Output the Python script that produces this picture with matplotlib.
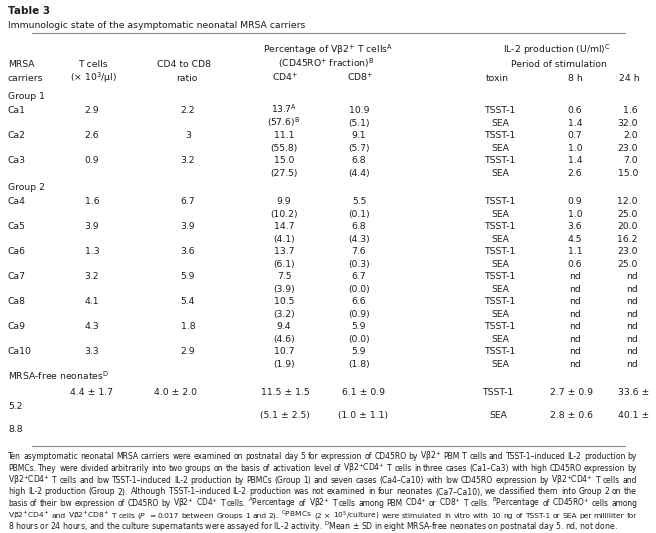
import matplotlib
matplotlib.use('Agg')
import matplotlib.pyplot as plt

plt.rcParams['font.family'] = ['DejaVu Sans']
plt.rcParams['mathtext.fontset'] = 'dejavusans'

title = 'Table 3'
subtitle = 'Immunologic state of the asymptomatic neonatal MRSA carriers'

carriers = ['Ca1', 'Ca2', 'Ca3', 'Ca4', 'Ca5', 'Ca6', 'Ca7', 'Ca8', 'Ca9', 'Ca10']
groups = ['Group 1', 'Group 1', 'Group 1', 'Group 2', 'Group 2', 'Group 2',
          'Group 2', 'Group 2', 'Group 2', 'Group 2']
t_cells = ['2.9', '2.6', '0.9', '1.6', '3.9', '1.3', '3.2', '4.1', '4.3', '3.3']
cd4_cd8 = ['2.2', '3', '3.2', '6.7', '3.9', '3.6', '5.9', '5.4', '1.8', '2.9']
cd4 = ['13.7', '11.1', '15.0', '9.9', '14.7', '13.7', '7.5', '10.5', '9.4', '10.7']
cd4_ro = ['57.6', '55.8', '27.5', '10.2', '4.1', '6.1', '3.9', '3.2', '4.6', '1.9']
cd8 = ['10.9', '9.1', '6.8', '5.5', '6.8', '7.6', '6.7', '6.6', '5.9', '5.9']
cd8_ro = ['5.1', '5.7', '4.4', '0.1', '4.3', '0.3', '0.0', '0.9', '0.0', '1.8']
toxins = ['TSST-1', 'SEA']
tsst_8h = ['0.6', '0.7', '1.4', '0.9', '3.6', '1.1', 'nd', 'nd', 'nd', 'nd']
tsst_24h = ['1.6', '2.0', '7.0', '12.0', '20.0', '23.0', 'nd', 'nd', 'nd', 'nd']
sea_8h = ['1.4', '1.0', '2.6', '1.0', '4.5', '0.6', 'nd', 'nd', 'nd', 'nd']
sea_24h = ['32.0', '23.0', '15.0', '25.0', '16.2', '25.0', 'nd', 'nd', 'nd', 'nd']

# MRSA-free neonates (mean ± SD)
free_label = 'MRSA-free neonates$^{\\mathrm{D}}$'
free_t_cells = '4.4 ± 1.7'
free_ratio = '4.0 ± 2.0'
free_cd4 = ['11.5 ± 1.5', '(5.1 ± 2.5)']
free_cd8 = ['6.1 ± 0.9', '(1.0 ± 1.1)']
free_8h = ['2.7 ± 0.9', '2.8 ± 0.6']
free_24h = ['33.6 ±', '40.1 ±']
free_24h_sd = ['5.2', '8.8']

footnote = [
    'Ten asymptomatic neonatal MRSA carriers were examined on postnatal day 5 for expression of CD45RO by Vβ2$^{+}$ PBM T cells and TSST-1–induced IL-2 production by',
    'PBMCs. They were divided arbitrarily into two groups on the basis of activation level of Vβ2$^{+}$CD4$^{+}$ T cells in three cases (Ca1–Ca3) with high CD45RO expression by',
    'Vβ2$^{+}$CD4$^{+}$ T cells and low TSST-1–induced IL-2 production by PBMCs (Group 1) and seven cases (Ca4–Ca10) with low CD45RO expression by Vβ2$^{+}$CD4$^{+}$ T cells and',
    'high IL-2 production (Group 2). Although TSST-1–induced IL-2 production was not examined in four neonates (Ca7–Ca10), we classified them into Group 2 on the',
    'basis of their low expression of CD45RO by Vβ2$^{+}$ CD4$^{+}$ T cells. $^{\\mathrm{A}}$Percentage of Vβ2$^{+}$ T cells among PBM CD4$^{+}$ or CD8$^{+}$ T cells. $^{\\mathrm{B}}$Percentage of CD45RO$^{+}$ cells among',
    'Vβ2$^{+}$CD4$^{+}$ and Vβ2$^{+}$CD8$^{+}$ T cells ($P$ = 0.017 between Groups 1 and 2). $^{\\mathrm{C}}$PBMCs (2 × 10$^{5}$/culture) were stimulated in vitro with 10 ng of TSST-1 or SEA per milliliter for',
    '8 hours or 24 hours, and the culture supernatants were assayed for IL-2 activity. $^{\\mathrm{D}}$Mean ± SD in eight MRSA-free neonates on postnatal day 5. nd, not done.',
]

FS = 6.7
FN = 5.55
INK = '#1c1c1c'

fig = plt.figure(figsize=(6.56, 5.33), dpi=100)
ax = fig.add_axes([0, 0, 1, 1])
ax.set_xlim(0, 656)
ax.set_ylim(533, 0)
ax.axis('off')


def put(x, y, s, ha='center', fs=FS, **kw):
    # y is the visual middle of the digits, convert to baseline
    return ax.text(x, y + 3.4, s, ha=ha, va='baseline', fontsize=fs, color=INK, **kw)


# title block
put(8, 11, title, ha='left', fs=7.5, fontweight='bold')
put(8, 25, subtitle, ha='left', fs=FS)
ax.plot([32, 625], [33, 33], color='#8c8c8c', lw=0.8)

# header
put(328, 50, 'Percentage of Vβ2$^{+}$ T cells$^{\\mathrm{A}}$')
put(326, 64, '(CD45RO$^{+}$ fraction)$^{\\mathrm{B}}$')
put(557, 50, 'IL-2 production (U/ml)$^{\\mathrm{C}}$')
put(559, 64, 'Period of stimulation')
put(8, 64, 'MRSA', ha='left')
put(8, 78, 'carriers', ha='left')
put(93, 64, 'T cells')
put(93, 78, '(× 10$^{3}$/μl)')
put(184, 64, 'CD4 to CD8')
put(187, 78, 'ratio')
put(285, 78, 'CD4$^{+}$')
put(360, 78, 'CD8$^{+}$')
put(497, 78, 'toxin')
put(575, 78, '8 h')
put(640, 78, '24 h', ha='right')

# body rows
sup4 = {0: ('$^{\\mathrm{A}}$', '$^{\\mathrm{B}}$')}
y = 96
prev = None
for i, name in enumerate(carriers):
    if groups[i] != prev:
        if prev is not None:
            y += 2
        put(8, y, groups[i], ha='left')
        y += 14
        prev = groups[i]
    a, b = sup4.get(i, ('', ''))
    put(8, y, name, ha='left')
    put(92, y, t_cells[i])
    put(188, y, cd4_cd8[i])
    put(284, y, cd4[i] + a)
    put(284, y + 12.5, '(' + cd4_ro[i] + ')' + b)
    put(359, y, cd8[i])
    put(359, y + 12.5, '(' + cd8_ro[i] + ')')
    put(500, y, toxins[0])
    put(500, y + 12.5, toxins[1])
    put(575, y, tsst_8h[i])
    put(575, y + 12.5, sea_8h[i])
    put(638, y, tsst_24h[i], ha='right')
    put(638, y + 12.5, sea_24h[i], ha='right')
    y += 25

# MRSA-free neonates
y = y + 1
put(8, y, free_label, ha='left')
ya, yb = y + 15, y + 38
put(92, ya, free_t_cells)
put(175, ya, free_ratio)
for yy, k in ((ya, 0), (yb, 1)):
    put(285, yy, free_cd4[k])
    put(363, yy, free_cd8[k])
    put(498, yy, toxins[k])
    put(572, yy, free_8h[k])
    put(618, yy, free_24h[k], ha='left')
    put(8, yy + 13.5, free_24h_sd[k], ha='left')

ax.plot([32, 625], [446, 446], color='#8c8c8c', lw=0.8)

# footnote, justified between x0 and x1; shrink a line a little if it
# would not fit with a minimal word gap
renderer = fig.canvas.get_renderer()
x0, x1 = 8, 637
min_gap = 2.2
for j, line in enumerate(footnote):
    yy = 456.5 + j * 11.7 + 2.9
    if j == len(footnote) - 1:
        ax.text(x0, yy, line, ha='left', va='baseline', fontsize=FN, color=INK)
        continue
    words = line.split(' ')
    objs = [ax.text(0, yy, w, ha='left', va='baseline', fontsize=FN, color=INK) for w in words]
    widths = [o.get_window_extent(renderer).width for o in objs]
    room = x1 - x0 - min_gap * (len(words) - 1)
    if sum(widths) > room:
        scale = room / sum(widths)
        for o in objs:
            o.set_fontsize(FN * scale)
        widths = [o.get_window_extent(renderer).width for o in objs]
    gap = (x1 - x0 - sum(widths)) / (len(words) - 1)
    xx = x0
    for o, w in zip(objs, widths):
        o.set_x(xx)
        xx += w + gap

fig.savefig('out.png', dpi=100)
